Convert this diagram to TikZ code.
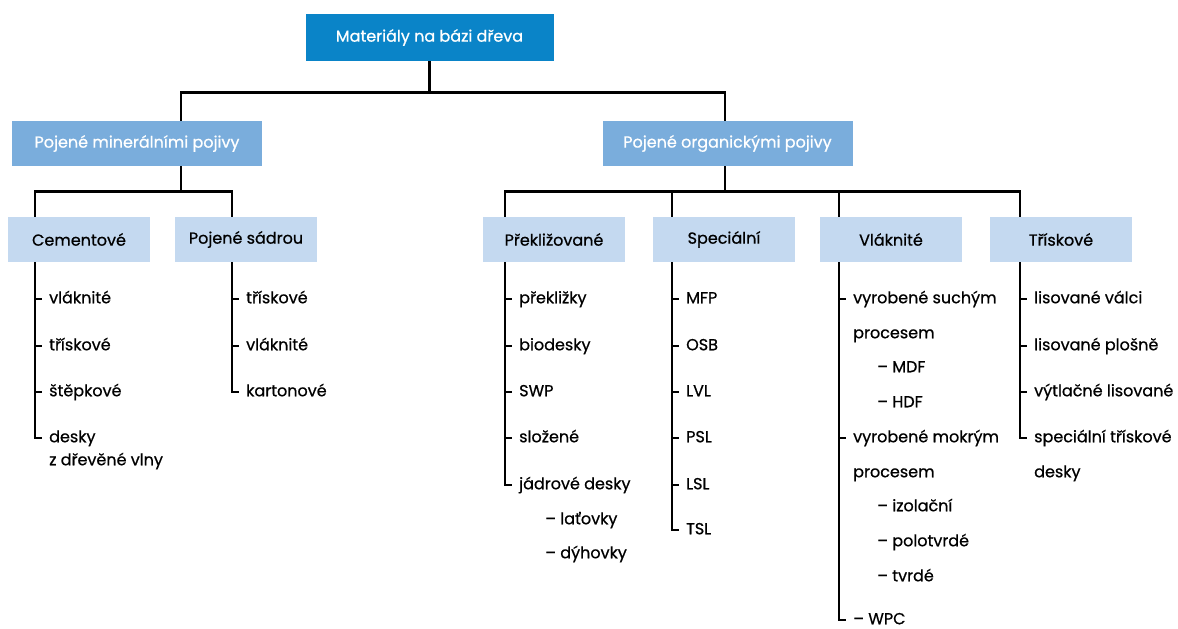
\documentclass[tikz,border=0pt]{standalone}
\usepackage{fontspec}
\setmainfont{Poppins}[FakeBold=0.7]
\definecolor{topblue}{HTML}{0A84C8}
\definecolor{midblue}{HTML}{7AADDC}
\definecolor{lightblue}{HTML}{C4D9F0}
\tikzset{
  topbox/.style={fill=topblue, text=white, minimum width=248pt, minimum height=47pt, inner sep=0pt, font=\fontsize{16}{18}\selectfont},
  midbox/.style={fill=midblue, text=white, minimum width=250pt, minimum height=45pt, inner sep=0pt, font=\fontsize{16}{18}\selectfont},
  subbox/.style={fill=lightblue, text=black, minimum width=142pt, minimum height=45pt, inner sep=0pt, font=\fontsize{16}{18}\selectfont},
  item/.style={anchor=west, inner sep=0pt, text height=12pt, text depth=3.5pt, font=\fontsize{16}{18}\selectfont},
  conn/.style={line width=2.6pt, line join=miter},
  thinconn/.style={line width=1.8pt},
}
\begin{document}
\begin{tikzpicture}[x=1pt,y=-1pt]
\useasboundingbox (0,0) rectangle (1178,629);
% boxes
\node[topbox] (top) at (429.5,37.5) {Materiály na bázi dřeva};
\node[midbox] (min) at (137,143.5) {Pojené minerálními pojivy};
\node[midbox] (org) at (727.5,143.5) {Pojené organickými pojivy};
\node[subbox] (cem) at (79,239.5) {Cementové};
\node[subbox] (sad) at (246,239.5) {Pojené sádrou};
\node[subbox] (pre) at (554,239.5) {Překližované};
\node[subbox] (spe) at (724,239.5) {Speciální};
\node[subbox] (vla) at (891,239.5) {Vláknité};
\node[subbox] (tri) at (1061,239.5) {Třískové};
% tree connectors
\draw[conn] (top.south) -- ++(0,31) -| ([xshift=44pt]min.north);
\draw[conn] (top.south) -- ++(0,31) -| ([xshift=-2.5pt]org.north);
\draw[conn] ([xshift=44pt]min.south) -- ++(0,25) -| ([xshift=-44pt]cem.north);
\draw[conn] ([xshift=44pt]min.south) -- ++(0,25) -| ([xshift=-14pt]sad.north);
\draw[conn] ([xshift=-2.5pt]org.south) -- ++(0,25) -| ([xshift=-49pt]pre.north);
\draw[conn] ([xshift=-2.5pt]org.south) -- ++(0,25) -| ([xshift=-41pt]tri.north);
\draw[thinconn] ([xshift=-2.5pt]org.south) ++(0,25) -| ([xshift=-52pt]spe.north);
\draw[conn] ([xshift=-2.5pt]org.south) ++(0,25) -| ([xshift=-52pt]vla.north);
% Cementove items
\node[item] (c1) at (49,299) {vláknité};
\node[item] (c2) at (49,346) {třískové};
\node[item] (c3) at (49,392) {štěpkové};
\node[item] (c4) at (49,438) {desky};
\node[item] (c5) at (49,461) {z dřevěné vlny};
\draw[conn] ([xshift=-44pt]cem.south) |- ([xshift=-7pt]c4.west);
\foreach \n in {c1,c2,c3} \draw[conn] ([xshift=-14pt]\n.west) -- ([xshift=-7pt]\n.west);
% Pojene sadrou items
\node[item] (s1) at (246,299) {třískové};
\node[item] (s2) at (246,346) {vláknité};
\node[item] (s3) at (246,392) {kartonové};
\draw[conn] ([xshift=-14pt]sad.south) |- ([xshift=-7pt]s3.west);
\foreach \n in {s1,s2} \draw[conn] ([xshift=-14pt]\n.west) -- ([xshift=-7pt]\n.west);
% Preklizovane items
\node[item] (p1) at (519,299) {překližky};
\node[item] (p2) at (519,346) {biodesky};
\node[item] (p3) at (519,392) {SWP};
\node[item] (p4) at (519,438) {složené};
\node[item] (p5) at (519,485) {jádrové desky};
\node[item] (p6) at (545,520) {– laťovky};
\node[item] (p7) at (545,554) {– dýhovky};
\draw[conn] ([xshift=-49pt]pre.south) |- ([xshift=-7pt]p5.west);
\foreach \n in {p1,p2,p3,p4} \draw[conn] ([xshift=-14pt]\n.west) -- ([xshift=-7pt]\n.west);
% Specialni items
\node[item] (e1) at (686,299) {MFP};
\node[item] (e2) at (686,346) {OSB};
\node[item] (e3) at (686,392) {LVL};
\node[item] (e4) at (686,438) {PSL};
\node[item] (e5) at (686,485) {LSL};
\node[item] (e6) at (686,530) {TSL};
\draw[conn] ([xshift=-52pt]spe.south) |- ([xshift=-7pt]e6.west);
\foreach \n in {e1,e2,e3,e4,e5} \draw[conn] ([xshift=-14pt]\n.west) -- ([xshift=-7pt]\n.west);
% Vlaknite items
\node[item] (v1) at (853,299) {vyrobené suchým};
\node[item] (v2) at (853,334) {procesem};
\node[item] (v3) at (877,368) {– MDF};
\node[item] (v4) at (877,403) {– HDF};
\node[item] (v5) at (853,438) {vyrobené mokrým};
\node[item] (v6) at (853,473) {procesem};
\node[item] (v7) at (877,507) {– izolační};
\node[item] (v8) at (877,542) {– polotvrdé};
\node[item] (v9) at (877,577) {– tvrdé};
\node[item] (v10) at (853,620) {– WPC};
\draw[conn] ([xshift=-52pt]vla.south) |- ([xshift=-7pt]v10.west);
\foreach \n in {v1,v5} \draw[conn] ([xshift=-14pt]\n.west) -- ([xshift=-7pt]\n.west);
% Triskove items
\node[item] (t1) at (1034,299) {lisované válci};
\node[item] (t2) at (1034,346) {lisované plošně};
\node[item] (t3) at (1034,392) {výtlačné lisované};
\node[item] (t4) at (1034,438) {speciální třískové};
\node[item] (t5) at (1034,473) {desky};
\draw[conn] ([xshift=-41pt]tri.south) |- ([xshift=-7pt]t4.west);
\foreach \n in {t1,t2,t3} \draw[conn] ([xshift=-14pt]\n.west) -- ([xshift=-7pt]\n.west);
\end{tikzpicture}
\end{document}
